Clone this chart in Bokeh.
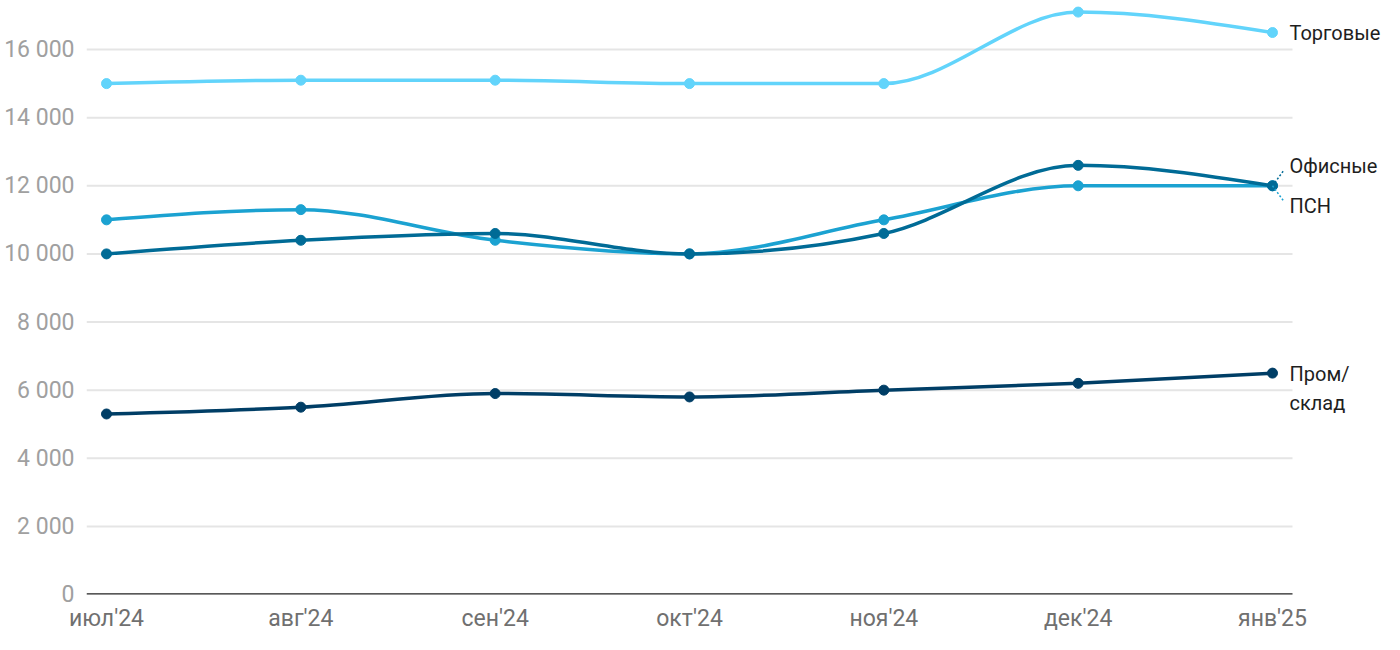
import numpy as np
from bokeh.plotting import figure
from bokeh.models import Range1d, FixedTicker
from bokeh.core.properties import value
from bokeh.embed import file_html
from bokeh.resources import INLINE

months = ["июл'24", "авг'24", "сен'24", "окт'24", "ноя'24", "дек'24", "янв'25"]
torg = [15000, 15100, 15100, 15000, 15000, 17100, 16500]
psn = [11000, 11300, 10400, 10000, 11000, 12000, 12000]
ofis = [10000, 10400, 10600, 10000, 10600, 12600, 12000]
prom = [5300, 5500, 5900, 5800, 6000, 6200, 6500]
y_ticks = [0, 2000, 4000, 6000, 8000, 10000, 12000, 14000, 16000]
names = ["Торговые", "ПСН", "Офисные", "Пром/\nсклад"]

colors = ["#62d4fb", "#1ba2d1", "#006b96", "#003e66"]
series = list(zip(names, [torg, psn, ofis, prom], colors))

FONT = "Roboto"
W, H = 1384, 634
LEFT, FRAME_H = 86, 594
PAD = 0.103                       # category padding at each side
PX_PER_X = 1206.0 / (6 + 2 * PAD)
x_end = -PAD + (W - LEFT) / PX_PER_X
Y_END = 17440

p = figure(width=W, height=H, output_backend="svg", toolbar_location=None,
           x_range=Range1d(-PAD, x_end), y_range=Range1d(0, Y_END),
           min_border_left=LEFT, min_border_right=0, min_border_top=0,
           min_border_bottom=H - FRAME_H)
p.outline_line_color = None
p.background_fill_color = "white"
p.border_fill_color = "white"

p.xaxis.ticker = FixedTicker(ticks=list(range(len(months))))
p.xaxis.major_label_overrides = {i: m for i, m in enumerate(months)}
p.xaxis.major_tick_line_color = None
p.xaxis.minor_tick_line_color = None
p.xaxis.axis_line_color = None
p.xaxis.major_label_text_font = FONT
p.xaxis.major_label_text_font_size = "23px"
p.xaxis.major_label_text_color = "#707070"
p.xaxis.major_label_standoff = 4

p.yaxis.ticker = FixedTicker(ticks=y_ticks)
p.yaxis.major_label_overrides = {t: f"{t:,}".replace(",", " ") for t in y_ticks}
p.yaxis.major_tick_line_color = None
p.yaxis.minor_tick_line_color = None
p.yaxis.axis_line_color = None
p.yaxis.major_label_text_font = FONT
p.yaxis.major_label_text_font_size = "23px"
p.yaxis.major_label_text_color = "#a0a0a0"
p.yaxis.major_label_standoff = 6

p.xgrid.grid_line_color = None
p.ygrid.grid_line_color = None

last = len(months) - 1
# grid lines limited to the category span
grid_y = y_ticks[1:]
p.segment(x0=[-PAD] * len(grid_y), y0=grid_y, x1=[last + PAD] * len(grid_y),
          y1=grid_y, line_color="#e5e5e5", line_width=2)
# baseline
p.segment(x0=[-PAD], y0=[0], x1=[last + PAD], y1=[0],
          line_color="#222222", line_width=2.5)


def monotone_tangents(y):
    y = np.asarray(y, float)
    n = len(y)
    s = np.diff(y)  # unit spacing
    t = np.zeros(n)
    for i in range(1, n - 1):
        s0, s1 = s[i - 1], s[i]
        pp = (s0 + s1) / 2
        t[i] = (np.sign(s0) + np.sign(s1)) * min(abs(s0), abs(s1), 0.5 * abs(pp))
    t[0] = (3 * s[0] - t[1]) / 2
    t[-1] = (3 * s[-1] - t[-2]) / 2
    return t


for name, vals, col in series:
    xs = np.arange(len(vals), dtype=float)
    ys = np.asarray(vals, float)
    t = monotone_tangents(ys)
    p.bezier(x0=xs[:-1], y0=ys[:-1], x1=xs[1:], y1=ys[1:],
             cx0=xs[:-1] + 1 / 3, cy0=ys[:-1] + t[:-1] / 3,
             cx1=xs[1:] - 1 / 3, cy1=ys[1:] - t[1:] / 3,
             line_color=col, line_width=3.5)
    p.scatter(xs, ys, size=10, color=col)

# screen-px to data conversion for label connectors
px_x = 1.0 / PX_PER_X
px_y = Y_END / FRAME_H
p.segment(x0=[last, last], y0=[ofis[-1], psn[-1]],
          x1=[last + 11 * px_x, last + 11 * px_x],
          y1=[ofis[-1] + 15 * px_y, psn[-1] - 15 * px_y],
          line_color=[colors[2], colors[1]], line_width=1.5, line_dash="2 2")

lab_y = [torg[-1], psn[-1] - 20 * px_y, ofis[-1] + 20 * px_y, prom[-1] - 15 * px_y]
p.text(x=[last] * len(names), y=lab_y, text=names, x_offset=17,
       text_font=value(FONT), text_font_size="20px", text_color="#1e1e1e",
       text_baseline="middle", text_line_height=1.2)

open("out.html", "w").write(file_html(p, INLINE))
